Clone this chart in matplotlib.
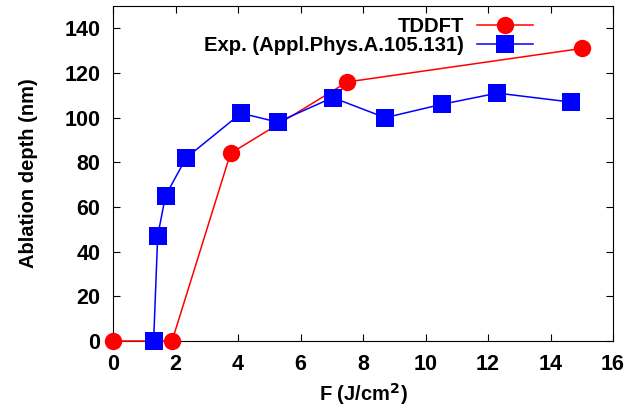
import matplotlib
matplotlib.use("Agg")
import matplotlib.pyplot as plt

# Ablation depth vs. fluence
tddft_f = [0.0, 1.89, 3.76, 7.5, 15.0]
tddft_depth = [0, 0, 84, 116, 131]

exp_f = [1.3, 1.43, 1.68, 2.34, 4.1, 5.27, 7.03, 8.71, 10.53, 12.3, 14.64]
exp_depth = [0, 47, 65, 82, 102, 98, 109, 100, 106, 111, 107]

x_ticks = [0, 2, 4, 6, 8, 10, 12, 14, 16]
y_ticks = [0, 20, 40, 60, 80, 100, 120, 140]

plt.rcParams['font.family'] = ['Liberation Sans', 'DejaVu Sans']
plt.rcParams['font.weight'] = 'bold'

fig = plt.figure(figsize=(6.4, 4.12), dpi=100)
ax = fig.add_axes([113 / 640, 71 / 412, 500 / 640, 335 / 412])

ax.plot(tddft_f, tddft_depth, color='#ff0000', lw=1.1, marker='o',
        markersize=12.5, markeredgewidth=0, label='TDDFT', zorder=3,
        clip_on=False)
ax.plot(exp_f, exp_depth, color='#0000ff', lw=1.1, marker='s',
        markersize=12.5, markeredgewidth=0,
        label='Exp. (Appl.Phys.A.105.131)', zorder=4, clip_on=False)

ax.set_xlim(0, 16)
ax.set_ylim(0, 150)
ax.set_xticks(x_ticks)
ax.set_yticks(y_ticks)
ax.tick_params(direction='in', length=5, width=0.8, top=True, right=True,
               labelsize=15.5, pad=9)
for s in ax.spines.values():
    s.set_linewidth(0.8)

ax.set_xlabel('F (J/cm$^\\mathbf{2}$)', fontsize=14.5, fontweight='bold',
              labelpad=5)
ax.set_ylabel('Ablation depth (nm)', fontsize=14.5, fontweight='bold',
              labelpad=19)

leg = ax.legend(loc='upper right', bbox_to_anchor=(0.85, 0.983),
                markerfirst=False, frameon=False, fontsize=14.6,
                handlelength=2.75, handletextpad=0.65, labelspacing=0.0,
                borderpad=0.25, borderaxespad=0)

fig.savefig('out.png', dpi=100)
